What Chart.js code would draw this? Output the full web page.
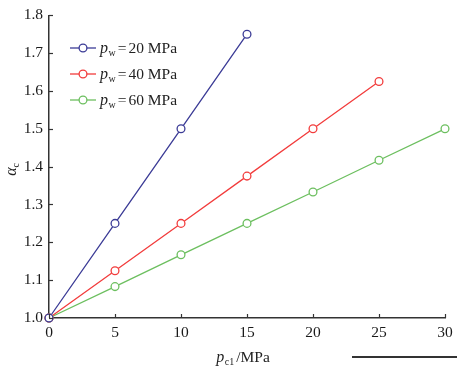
<!DOCTYPE html>
<html><head><meta charset="utf-8">
<script src="https://cdn.jsdelivr.net/npm/chart.js@4.4.0/dist/chart.umd.min.js"></script>
<style>html,body{margin:0;padding:0;background:#fff}</style></head>
<body><canvas id="c" width="468" height="377"></canvas>
<script>
const xValues = [0, 5, 10, 15, 20, 25, 30];
const pw20 = [1.0, 1.25, 1.5, 1.75];
const pw40 = [1.0, 1.125, 1.25, 1.375, 1.5, 1.625];
const pw60 = [1.0, 1.083, 1.167, 1.25, 1.333, 1.417, 1.5];
const seriesLabels = ['20', '40', '60'];
const seriesColors = ['#3b3b96', '#f23c3c', '#6cbf5f'];
const xTicks = [0, 5, 10, 15, 20, 25, 30];
const yTicks = [1.0, 1.1, 1.2, 1.3, 1.4, 1.5, 1.6, 1.7, 1.8];

const SERIF = '"Liberation Serif","DejaVu Serif",serif';
const mk = arr => arr.map((v, i) => ({x: xValues[i], y: v}));
const allSeries = [pw20, pw40, pw60];

const datasets = allSeries.map((s, i) => ({
  label: seriesLabels[i],
  data: mk(s),
  borderColor: seriesColors[i],
  backgroundColor: '#fff',
  pointBackgroundColor: '#fff',
  pointBorderColor: seriesColors[i],
  pointRadius: 3.9,
  pointBorderWidth: 1.3,
  borderWidth: 1.3,
  tension: 0,
  clip: false
}));

const deco = {
  id: 'deco',
  afterDraw(chart) {
    const ctx = chart.ctx, xs = chart.scales.x, ys = chart.scales.y, ca = chart.chartArea;
    ctx.save();
    ctx.strokeStyle = '#333';
    ctx.lineWidth = 1.2;
    xTicks.forEach(t => {
      const p = Math.round(xs.getPixelForValue(t)) + 0.5;
      ctx.beginPath(); ctx.moveTo(p, ca.bottom); ctx.lineTo(p, ca.bottom - 4); ctx.stroke();
    });
    yTicks.forEach(t => {
      const p = Math.round(ys.getPixelForValue(t)) + 0.5;
      ctx.beginPath(); ctx.moveTo(ca.left, p); ctx.lineTo(ca.left + 4, p); ctx.stroke();
    });
    ctx.fillStyle = '#222';
    ctx.textBaseline = 'alphabetic';
    // legend
    const rows = [48, 74, 100];
    rows.forEach((y, i) => {
      ctx.strokeStyle = seriesColors[i];
      ctx.lineWidth = 1.3;
      ctx.beginPath(); ctx.moveTo(70, y); ctx.lineTo(96, y); ctx.stroke();
      ctx.beginPath(); ctx.arc(83, y, 3.9, 0, Math.PI * 2);
      ctx.fillStyle = '#fff'; ctx.fill(); ctx.stroke();
      ctx.fillStyle = '#222';
      let x = 100; const base = y + 5;
      ctx.textAlign = 'left';
      ctx.font = 'italic 16px ' + SERIF;
      ctx.fillText('p', x, base); x += ctx.measureText('p').width + 0.5;
      ctx.font = '10px ' + SERIF;
      ctx.fillText('w', x, base + 3); x += ctx.measureText('w').width + 2;
      ctx.font = '15.5px ' + SERIF;
      ctx.fillText('=', x, base); x += ctx.measureText('=').width + 2;
      ctx.fillText(seriesLabels[i] + ' MPa', x, base);
    });
    // x title
    ctx.font = 'italic 16px ' + SERIF; const wp = ctx.measureText('p').width;
    ctx.font = '10px ' + SERIF; const wc = ctx.measureText('c1').width;
    ctx.font = '15.5px ' + SERIF; const wm = ctx.measureText('/MPa').width;
    const total = wp + 0.5 + wc + 2 + wm;
    let tx = (ca.left + ca.right) / 2 - total / 2 - 4;
    const ty = 362;
    ctx.textAlign = 'left';
    ctx.font = 'italic 16px ' + SERIF; ctx.fillText('p', tx, ty); tx += wp + 0.5;
    ctx.font = '10px ' + SERIF; ctx.fillText('c1', tx, ty + 3); tx += wc + 2;
    ctx.font = '15.5px ' + SERIF; ctx.fillText('/MPa', tx, ty);
    // y title
    ctx.save();
    ctx.translate(16, (ca.top + ca.bottom) / 2 + 3);
    ctx.rotate(-Math.PI / 2);
    ctx.font = 'italic 16px ' + SERIF;
    const wa = ctx.measureText('α').width;
    ctx.fillText('α', -wa / 2 - 2, 0);
    ctx.font = '10px ' + SERIF;
    ctx.fillText('c', wa / 2 - 2, 3);
    ctx.restore();
    // decorative rule
    ctx.fillStyle = '#333';
    ctx.fillRect(352, 356, 105, 2);
    ctx.restore();
  }
};

new Chart(document.getElementById('c'), {
  type: 'line',
  data: {datasets},
  options: {
    responsive: false,
    animation: false,
    devicePixelRatio: 1,
    layout: {padding: {top: 15, right: 23, left: 0, bottom: 0}, autoPadding: false},
    plugins: {legend: {display: false}, tooltip: {enabled: false}},
    scales: {
      x: {
        type: 'linear', min: 0, max: 30,
        afterFit: s => { s.height = 59; },
        afterBuildTicks: s => { s.ticks = xTicks.map(v => ({value: v})); },
        ticks: {font: {family: SERIF, size: 15.5}, color: '#1a1a1a', padding: 6, maxRotation: 0, callback: v => String(v)},
        grid: {display: false, drawTicks: false},
        border: {display: true, color: '#333', width: 1.5}
      },
      y: {
        type: 'linear', min: 1.0, max: 1.8,
        afterFit: s => { s.width = 49; },
        afterBuildTicks: s => { s.ticks = yTicks.map(v => ({value: v})); },
        ticks: {font: {family: SERIF, size: 15.5}, color: '#1a1a1a', padding: 6, callback: v => Number(v).toFixed(1)},
        grid: {display: false, drawTicks: false},
        border: {display: true, color: '#333', width: 1.5}
      }
    }
  },
  plugins: [deco]
});
</script></body></html>
